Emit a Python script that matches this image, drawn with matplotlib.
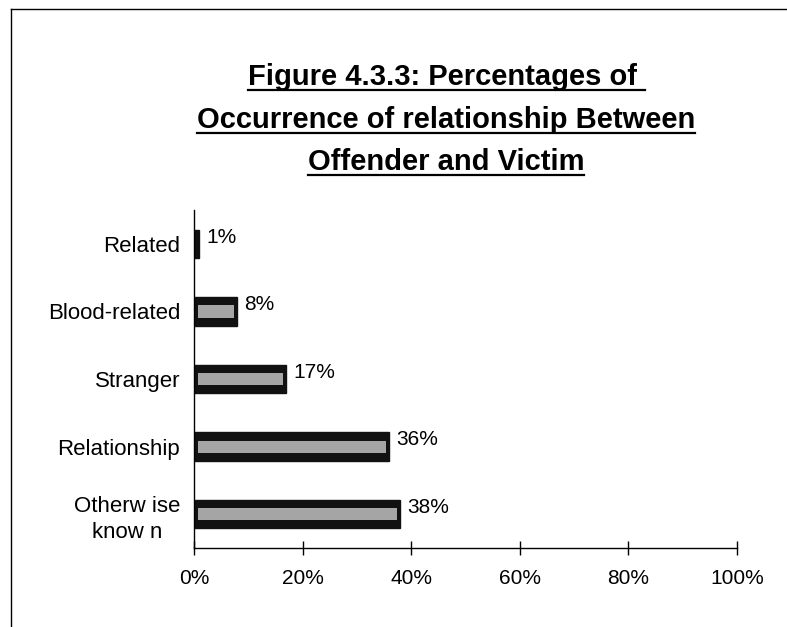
import matplotlib.pyplot as plt
from matplotlib.lines import Line2D
from matplotlib.ticker import FuncFormatter

categories = ["Related", "Blood-related", "Stranger", "Relationship", "Otherw ise\nknow n"]
percentages = [1, 8, 17, 36, 38]
value_labels = ["1%", "8%", "17%", "36%", "38%"]
x_ticks = [0, 20, 40, 60, 80, 100]
title_lines = [
    "Figure 4.3.3: Percentages of ",
    "Occurrence of relationship Between",
    "Offender and Victim",
]

plt.rcParams['font.family'] = ['Liberation Sans', 'DejaVu Sans']

fig = plt.figure(figsize=(7.87, 6.27), dpi=100)
ax = fig.add_axes([0.2465, 0.126, 0.69, 0.539])

ypos = list(range(len(categories)))

# dark outer bar with a lighter speckled band through the middle
ax.barh(ypos, percentages, height=0.42, color='#111111', edgecolor='#111111', linewidth=1)
inner = [max(p - 1.4, 0) for p in percentages]
ax.barh(ypos, inner, left=0.7, height=0.18, color='#a5a5a5', linewidth=0)

for y, p, lab in zip(ypos, percentages, value_labels):
    ax.text(p + 1.3, y - 0.1, lab, va='center', ha='left', fontsize=15)

ax.set_ylim(len(categories) - 0.5, -0.5)
ax.set_yticks(ypos)
ax.set_yticklabels(categories, fontsize=16, linespacing=1.3, multialignment='center')
ax.set_xlim(0, 100)
ax.set_xticks(x_ticks)
ax.xaxis.set_major_formatter(FuncFormatter(lambda v, _: f"{v:.0f}%"))
ax.tick_params(axis='x', labelsize=15, direction='inout', length=10, width=1, pad=10)
ax.tick_params(axis='y', length=0, pad=10)

for s in ['top', 'right']:
    ax.spines[s].set_visible(False)
for s in ['left', 'bottom']:
    ax.spines[s].set_linewidth(1)
    ax.spines[s].set_color('black')

# underlined title, one line at a time
renderer = fig.canvas.get_renderer()
ty = [0.877, 0.809, 0.742]
for line, y in zip(title_lines, ty):
    t = fig.text(0.567, y, line, ha='center', va='center', fontsize=21,
                 fontweight='bold', family=['Liberation Sans Narrow', 'Liberation Sans'])
    bb = t.get_window_extent(renderer).transformed(fig.transFigure.inverted())
    fig.add_artist(Line2D([bb.x0, bb.x1], [bb.y0 + 0.002, bb.y0 + 0.002],
                          transform=fig.transFigure, color='black', lw=1.6))

# page border
fig.add_artist(Line2D([0.014, 1], [0.986, 0.986], transform=fig.transFigure, color='black', lw=1))
fig.add_artist(Line2D([0.014, 0.014], [0, 0.986], transform=fig.transFigure, color='black', lw=1))

fig.savefig('out.png', dpi=100)
